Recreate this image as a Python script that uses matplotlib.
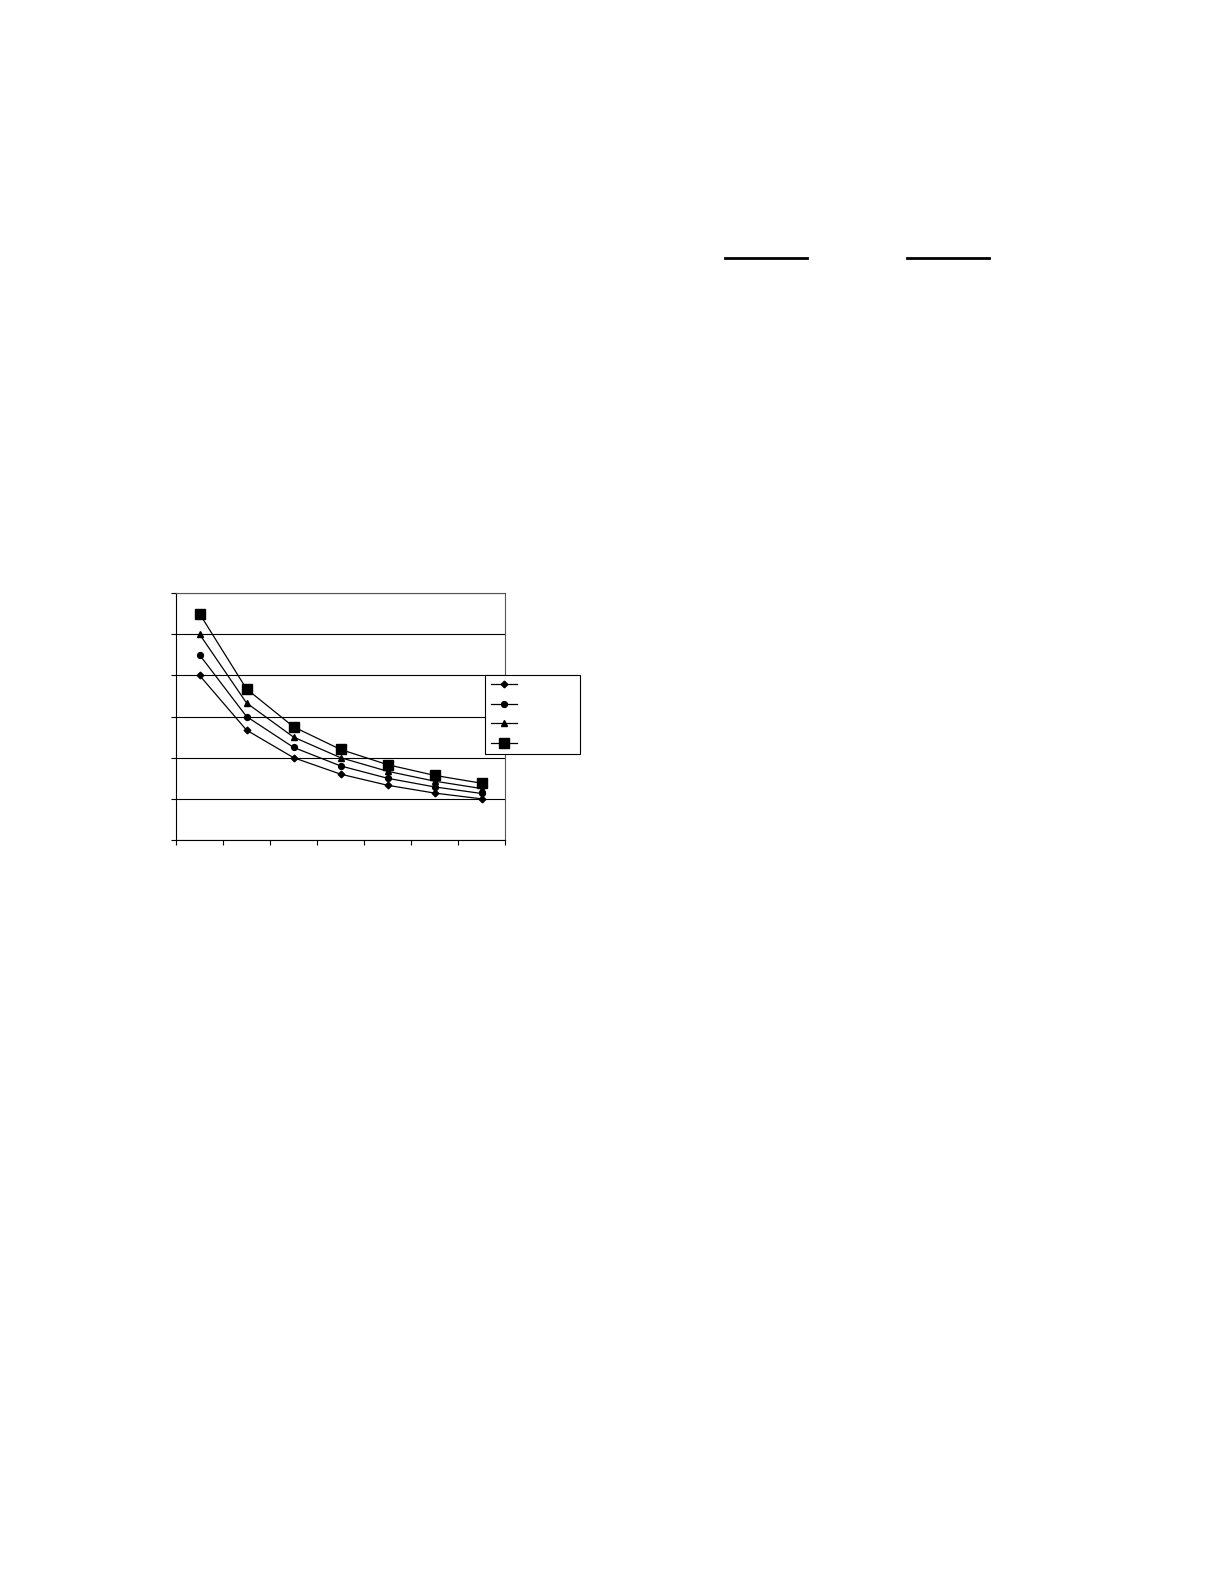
import numpy as np
import matplotlib
matplotlib.use("Agg")
import matplotlib.pyplot as plt
from matplotlib.lines import Line2D

# seven categories, four series (no text was legible in the source)
categories = [1, 2, 3, 4, 5, 6, 7]
series_a = [40.0, 26.7, 20.0, 16.0, 13.3, 11.4, 10.0]
series_b = [45.0, 30.0, 22.5, 18.0, 15.0, 12.9, 11.3]
series_c = [50.0, 33.3, 25.0, 20.0, 16.7, 14.3, 12.5]
series_d = [55.0, 36.7, 27.5, 22.0, 18.3, 15.7, 13.8]
y_ticks = [0, 10, 20, 30, 40, 50, 60]

fig = plt.figure(figsize=(12.24, 15.84), dpi=100)
ax = fig.add_axes([176/1224, 1-840/1584, (505-176)/1224, (840-593)/1584])

x = np.arange(len(categories))
l1, = ax.plot(x, series_a, '-', color='k', lw=0.9, marker='D', ms=3.4)
l2, = ax.plot(x, series_b, '-', color='k', lw=0.9, marker='o', ms=4.2)
l3, = ax.plot(x, series_c, '-', color='k', lw=0.9, marker='^', ms=4.8)
l4, = ax.plot(x, series_d, '-', color='k', lw=0.9, marker='s', ms=6.8)

ax.set_xlim(-0.5, len(categories)-0.5)
ax.set_ylim(y_ticks[0], y_ticks[-1])
ax.set_yticks(y_ticks)
ax.set_yticklabels([])
ax.set_xticks(np.arange(len(categories)+1)-0.5)
ax.set_xticklabels([])
ax.tick_params(direction='out', length=3.5, width=0.8, color='k')
ax.yaxis.grid(True, color='k', lw=0.8)
ax.set_axisbelow(True)
for s in ax.spines.values():
    s.set_color('#555555')
    s.set_linewidth(0.8)
ax.spines['left'].set_color('k')
ax.spines['bottom'].set_color('k')

leg = fig.legend([l1, l2, l3, l4], [' ' * 15]*4, loc='lower left',
                 bbox_to_anchor=(485/1224, 1-754/1584), borderaxespad=0,
                 fontsize=8, handlelength=2.4, labelspacing=0.85, borderpad=0.5,
                 handletextpad=0.4, fancybox=False, edgecolor='k', framealpha=1)
leg.get_frame().set_linewidth(0.8)

# two short rules near the top of the page
fig.add_artist(Line2D([725/1224, 807/1224], [1-258/1584]*2, color='k', lw=2))
fig.add_artist(Line2D([907/1224, 989/1224], [1-258/1584]*2, color='k', lw=2))

fig.savefig("out.png", dpi=100)
